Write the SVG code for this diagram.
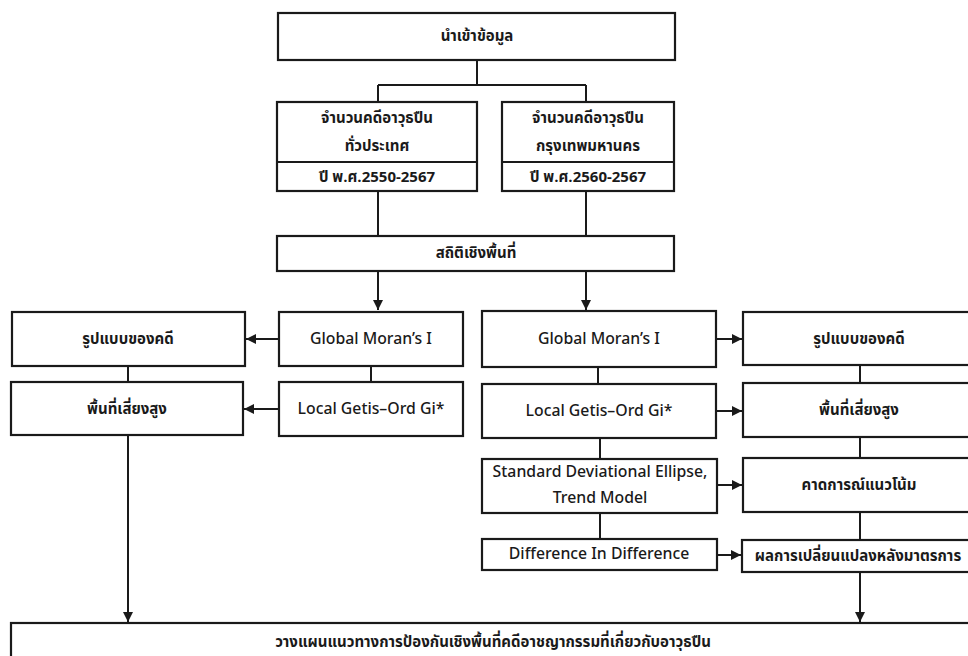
<svg xmlns="http://www.w3.org/2000/svg" width="968" height="656" viewBox="0 0 968 656">
<defs>
<marker id="ah" viewBox="0 0 10 10" refX="10" refY="5" markerWidth="5" markerHeight="5" orient="auto" markerUnits="strokeWidth">
<path d="M0,0 L10,5 L0,10 z" fill="#1a1a1a"/>
</marker>
<style>
.b{fill:#fff;stroke:#1a1a1a;stroke-width:2.2}
.c{fill:none;stroke:#1a1a1a;stroke-width:2}
.th{font-family:"Noto Sans Thai","Noto Sans Thai UI","Tahoma","Noto Sans",sans-serif;font-size:15px;font-weight:bold;fill:#1a1a1a;text-anchor:middle;dominant-baseline:central}
.en{font-family:"Noto Sans Thai","Noto Sans","Open Sans",sans-serif;font-size:15.8px;font-weight:500;fill:#1a1a1a;text-anchor:middle;dominant-baseline:central}
</style>
</defs>
<rect width="968" height="656" fill="#fff"/>
<g id="connectors">
<path class="c" d="M477,60 V85 M378,85 H586 M378,85 V102 M586,85 V102"/>
<path class="c" d="M378,191 V236 M586,191 V236"/>
<path class="c" d="M378,271 V310" marker-end="url(#ah)"/>
<path class="c" d="M586,271 V310" marker-end="url(#ah)"/>
<path class="c" d="M279,339 H246" marker-end="url(#ah)"/>
<path class="c" d="M279,409 H244" marker-end="url(#ah)"/>
<path class="c" d="M371,366 V382 M128,366 V382"/>
<path class="c" d="M128,435 V622" marker-end="url(#ah)"/>
<path class="c" d="M716,339 H742" marker-end="url(#ah)"/>
<path class="c" d="M716,411 H742" marker-end="url(#ah)"/>
<path class="c" d="M717,485 H742" marker-end="url(#ah)"/>
<path class="c" d="M717,555 H741" marker-end="url(#ah)"/>
<path class="c" d="M598,367 V384 M600,438 V459 M600,513 V539"/>
<path class="c" d="M860,365 V383 M860,437 V458 M860,512 V540"/>
<path class="c" d="M860,572 V622" marker-end="url(#ah)"/>
</g>
<g id="n-import"><rect class="b" x="278" y="13" width="397" height="47"/><text class="th" x="477" y="36">นำเข้าข้อมูล</text></g>
<g id="n-national"><rect class="b" x="277" y="102" width="200" height="89"/><line class="c" x1="277" y1="162" x2="477" y2="162"/><text class="th" x="377" y="118">จำนวนคดีอาวุธปืน</text><text class="th" x="377" y="146">ทั่วประเทศ</text><text class="th" x="377" y="177">ปี พ.ศ.2550-2567</text></g>
<g id="n-bangkok"><rect class="b" x="502" y="102" width="172" height="89"/><line class="c" x1="502" y1="162" x2="674" y2="162"/><text class="th" x="588" y="118">จำนวนคดีอาวุธปืน</text><text class="th" x="588" y="146">กรุงเทพมหานคร</text><text class="th" x="588" y="177">ปี พ.ศ.2560-2567</text></g>
<g id="n-stats"><rect class="b" x="277" y="236" width="397" height="35"/><text class="th" x="476" y="253">สถิติเชิงพื้นที่</text></g>
<g id="n-gm-l"><rect class="b" x="279" y="312" width="184" height="54"/><text class="en" x="371" y="339">Global Moran’s I</text></g>
<g id="n-pat-l"><rect class="b" x="12" y="312" width="233" height="54"/><text class="th" x="128" y="339">รูปแบบของคดี</text></g>
<g id="n-lg-l"><rect class="b" x="279" y="382" width="184" height="54"/><text class="en" x="371" y="409">Local Getis–Ord Gi*</text></g>
<g id="n-hot-l"><rect class="b" x="11" y="382" width="232" height="53"/><text class="th" x="127" y="409">พื้นที่เสี่ยงสูง</text></g>
<g id="n-gm-r"><rect class="b" x="482" y="311" width="234" height="56"/><text class="en" x="599" y="339">Global Moran’s I</text></g>
<g id="n-pat-r"><rect class="b" x="743" y="312" width="232" height="53"/><text class="th" x="859" y="339">รูปแบบของคดี</text></g>
<g id="n-lg-r"><rect class="b" x="482" y="384" width="234" height="54"/><text class="en" x="599" y="411">Local Getis–Ord Gi*</text></g>
<g id="n-hot-r"><rect class="b" x="743" y="383" width="232" height="54"/><text class="th" x="859" y="410">พื้นที่เสี่ยงสูง</text></g>
<g id="n-sde"><rect class="b" x="482" y="459" width="235" height="54"/><text class="en" x="600" y="472">Standard Deviational Ellipse,</text><text class="en" x="600" y="498">Trend Model</text></g>
<g id="n-trend"><rect class="b" x="743" y="458" width="232" height="54"/><text class="th" x="859" y="485">คาดการณ์แนวโน้ม</text></g>
<g id="n-did"><rect class="b" x="482" y="539" width="235" height="31"/><text class="en" x="599" y="554">Difference In Difference</text></g>
<g id="n-change"><rect class="b" x="742" y="540" width="233" height="32"/><text class="th" x="858" y="556">ผลการเปลี่ยนแปลงหลังมาตรการ</text></g>
<g id="n-plan"><rect class="b" x="11" y="623" width="964" height="60"/><text class="th" x="493" y="642">วางแผนแนวทางการป้องกันเชิงพื้นที่คดีอาชญากรรมที่เกี่ยวกับอาวุธปืน</text></g>
</svg>
